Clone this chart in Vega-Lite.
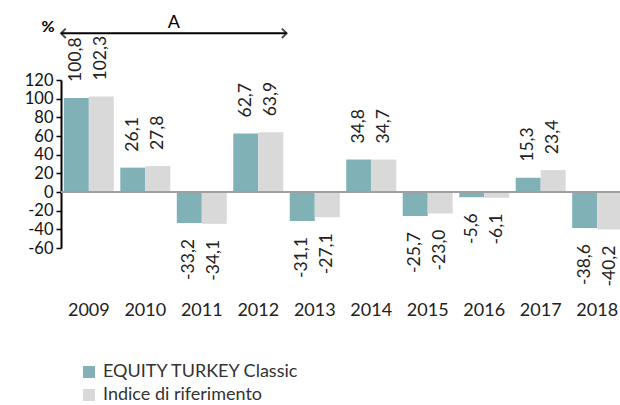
{
  "$schema": "https://vega.github.io/schema/vega-lite/v6.json",
  "autosize": {"type": "none"},
  "padding": {"left": 61, "top": 80, "right": 0, "bottom": 157},
  "width": 564,
  "height": 168,
  "config": {
    "view": {"stroke": null},
    "font": "Lato",
    "axisY": {"title": null, "grid": false, "values": [-60, -40, -20, 0, 20, 40, 60, 80, 100, 120], "tickCount": 10, "labelOverlap": false, "domainColor": "#000", "domainWidth": 2, "tickColor": "#000", "tickSize": 5, "tickWidth": 1.5, "labelFontSize": 16.5, "labelColor": "#111", "labelPadding": 3},
    "locale": {"number": {"decimal": ",", "thousands": ".", "grouping": [3], "currency": ["", " €"], "minus": "-"}}
  },
  "datasets": {
    "bars": [
      {"year": "2009", "series": "EQUITY TURKEY Classic", "value": 100.8},
      {"year": "2009", "series": "Indice di riferimento", "value": 102.3},
      {"year": "2010", "series": "EQUITY TURKEY Classic", "value": 26.1},
      {"year": "2010", "series": "Indice di riferimento", "value": 27.8},
      {"year": "2011", "series": "EQUITY TURKEY Classic", "value": -33.2},
      {"year": "2011", "series": "Indice di riferimento", "value": -34.1},
      {"year": "2012", "series": "EQUITY TURKEY Classic", "value": 62.7},
      {"year": "2012", "series": "Indice di riferimento", "value": 63.9},
      {"year": "2013", "series": "EQUITY TURKEY Classic", "value": -31.1},
      {"year": "2013", "series": "Indice di riferimento", "value": -27.1},
      {"year": "2014", "series": "EQUITY TURKEY Classic", "value": 34.8},
      {"year": "2014", "series": "Indice di riferimento", "value": 34.7},
      {"year": "2015", "series": "EQUITY TURKEY Classic", "value": -25.7},
      {"year": "2015", "series": "Indice di riferimento", "value": -23.0},
      {"year": "2016", "series": "EQUITY TURKEY Classic", "value": -5.6},
      {"year": "2016", "series": "Indice di riferimento", "value": -6.1},
      {"year": "2017", "series": "EQUITY TURKEY Classic", "value": 15.3},
      {"year": "2017", "series": "Indice di riferimento", "value": 23.4},
      {"year": "2018", "series": "EQUITY TURKEY Classic", "value": -38.6},
      {"year": "2018", "series": "Indice di riferimento", "value": -40.2}
    ],
    "arrow": [{"start": 0, "end": 4, "y": 170}],
    "heads": [
      {"pos": 0, "y": 170, "dir": "left"},
      {"pos": 4, "y": 170, "dir": "right"}
    ],
    "noteA": [{"pos": 2, "y": 170, "text": "A"}],
    "notePct": [{"pos": -0.23, "y": 170, "text": "%"}]
  },
  "resolve": {"scale": {"x": "independent"}},
  "layer": [
    {
      "data": {"name": "bars"},
      "encoding": {
        "x": {
          "field": "year", "type": "nominal",
          "scale": {"paddingInner": 0.115, "paddingOuter": 0.05},
          "axis": {"title": null, "domain": false, "ticks": false, "labelAngle": 0, "labelPadding": 53, "labelFontSize": 18, "labelColor": "#222"}
        },
        "xOffset": {"field": "series", "type": "nominal", "scale": {"paddingInner": 0, "paddingOuter": 0}},
        "y": {
          "field": "value", "type": "quantitative",
          "scale": {"domain": [-60, 120], "nice": false, "zero": false},
          "axis": {"title": null, "values": [-60, -40, -20, 0, 20, 40, 60, 80, 100, 120], "labelOverlap": false}
        }
      },
      "layer": [
        {
          "mark": {"type": "bar"},
          "encoding": {
            "color": {
              "field": "series", "type": "nominal",
              "scale": {"range": ["#7FB1B7", "#D9D9D9"]},
              "legend": {"title": null, "orient": "none", "legendX": 19, "legendY": 283, "padding": 0, "symbolType": "square", "symbolSize": 144, "symbolStrokeWidth": 0, "labelFontSize": 18, "labelLimit": 400, "labelColor": "#333", "labelOffset": 5, "rowPadding": 5}
            }
          }
        },
        {
          "mark": {"type": "rule", "color": "#a0a0a0", "strokeWidth": 2},
          "encoding": {"y": {"datum": 0}, "x": null, "xOffset": null}
        },
        {
          "transform": [{"filter": "datum.value >= 0"}],
          "mark": {"type": "text", "angle": 270, "align": "left", "baseline": "middle", "dx": 16, "fontSize": 17.5, "color": "#222"},
          "encoding": {"text": {"field": "value", "type": "quantitative", "format": ".1f"}}
        },
        {
          "transform": [{"filter": "datum.value < 0"}],
          "mark": {"type": "text", "angle": 270, "align": "right", "baseline": "middle", "dx": -16, "fontSize": 17.5, "color": "#222"},
          "encoding": {"text": {"field": "value", "type": "quantitative", "format": ".1f"}}
        }
      ]
    },
    {
      "layer": [
        {
          "data": {"name": "arrow"},
          "mark": {"type": "rule", "color": "#000", "strokeWidth": 2},
          "encoding": {
            "x": {"field": "start", "type": "quantitative", "scale": {"domain": [0, 10], "nice": false, "zero": false}, "axis": null},
            "x2": {"field": "end"},
            "y": {"field": "y", "type": "quantitative", "axis": {"title": null, "values": [-60, -40, -20, 0, 20, 40, 60, 80, 100, 120], "labelOverlap": false}}
          }
        },
        {
          "data": {"name": "heads"},
          "mark": {"type": "point", "filled": false, "stroke": "#000", "strokeWidth": 2, "size": 90},
          "encoding": {
            "x": {"field": "pos", "type": "quantitative", "scale": {"domain": [0, 10], "nice": false, "zero": false}, "axis": null},
            "y": {"field": "y", "type": "quantitative", "axis": {"title": null, "values": [-60, -40, -20, 0, 20, 40, 60, 80, 100, 120], "labelOverlap": false}},
            "shape": {"field": "dir", "type": "nominal", "scale": {"domain": ["left", "right"], "range": ["M1,-1L0,0L1,1", "M-1,-1L0,0L-1,1"]}, "legend": null}
          }
        },
        {
          "data": {"name": "noteA"},
          "mark": {"type": "text", "align": "center", "baseline": "alphabetic", "dy": -5, "fontSize": 18, "color": "#000"},
          "encoding": {
            "x": {"field": "pos", "type": "quantitative", "scale": {"domain": [0, 10], "nice": false, "zero": false}, "axis": null},
            "y": {"field": "y", "type": "quantitative", "axis": {"title": null, "values": [-60, -40, -20, 0, 20, 40, 60, 80, 100, 120], "labelOverlap": false}},
            "text": {"field": "text"}
          }
        },
        {
          "data": {"name": "notePct"},
          "mark": {"type": "text", "align": "center", "baseline": "alphabetic", "dy": -1, "fontSize": 16, "fontWeight": "bold", "color": "#000"},
          "encoding": {
            "x": {"field": "pos", "type": "quantitative", "scale": {"domain": [0, 10], "nice": false, "zero": false}, "axis": null},
            "y": {"field": "y", "type": "quantitative", "axis": {"title": null, "values": [-60, -40, -20, 0, 20, 40, 60, 80, 100, 120], "labelOverlap": false}},
            "text": {"field": "text"}
          }
        }
      ]
    }
  ]
}
